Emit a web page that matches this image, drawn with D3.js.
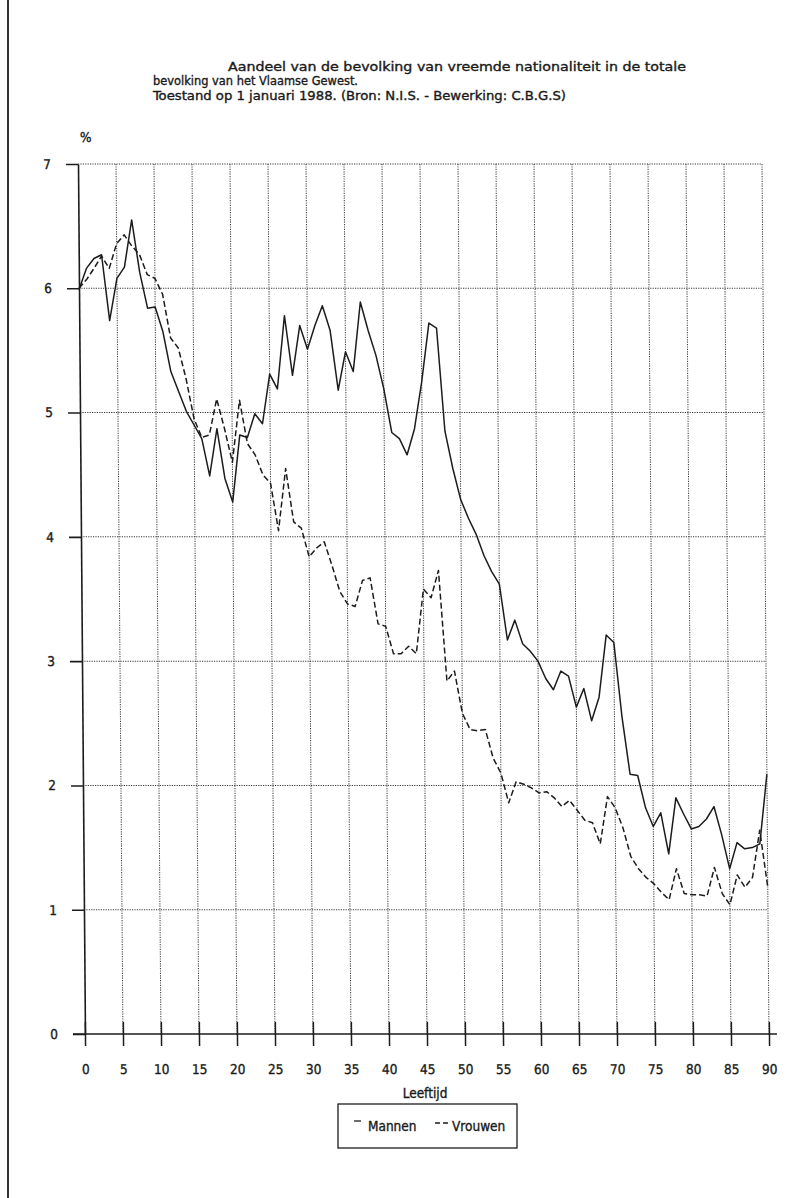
<!DOCTYPE html>
<html><head><meta charset="utf-8">
<script src="https://cdn.jsdelivr.net/npm/d3@7"></script>
<style>
html,body{margin:0;padding:0;background:#fff;}
svg{display:block;}
text{font-family:"Liberation Sans Narrow","DejaVu Sans Condensed","DejaVu Sans",sans-serif;fill:#1a1a1a;stroke:#1a1a1a;stroke-width:0.35px;}
</style></head><body>
<svg id="chart" width="798" height="1198"></svg>
<script>
// ---- data ----
const ages = d3.range(0, 91);
const mannen = [
  5.99, 6.16, 6.24, 6.27, 5.74, 6.08, 6.17, 6.55, 6.13, 5.84,
  5.85, 5.65, 5.33, 5.17, 5.01, 4.90, 4.79, 4.49, 4.87, 4.47,
  4.28, 4.82, 4.80, 4.99, 4.91, 5.31, 5.19, 5.78, 5.30, 5.70,
  5.51, 5.70, 5.86, 5.66, 5.18, 5.49, 5.33, 5.89, 5.66, 5.46,
  5.19, 4.84, 4.79, 4.66, 4.87, 5.25, 5.72, 5.68, 4.85, 4.55,
  4.30, 4.15, 4.02, 3.85, 3.72, 3.62, 3.17, 3.33, 3.14, 3.08,
  3.00, 2.86, 2.77, 2.92, 2.88, 2.63, 2.78, 2.52, 2.71, 3.21,
  3.15, 2.55, 2.09, 2.08, 1.82, 1.67, 1.78, 1.45, 1.90, 1.77,
  1.65, 1.67, 1.73, 1.83, 1.60, 1.33, 1.54, 1.49, 1.50, 1.53,
  2.09
];
const vrouwen = [
  6.00, 6.07, 6.16, 6.26, 6.16, 6.36, 6.43, 6.34, 6.27, 6.11,
  6.08, 5.95, 5.60, 5.52, 5.27, 4.95, 4.80, 4.82, 5.11, 4.87,
  4.60, 5.10, 4.75, 4.66, 4.50, 4.43, 4.05, 4.55, 4.12, 4.07,
  3.84, 3.91, 3.96, 3.77, 3.56, 3.46, 3.44, 3.65, 3.67, 3.30,
  3.28, 3.06, 3.06, 3.12, 3.06, 3.58, 3.51, 3.73, 2.84, 2.92,
  2.58, 2.45, 2.44, 2.45, 2.22, 2.10, 1.86, 2.03, 2.01, 1.98,
  1.94, 1.95, 1.90, 1.83, 1.88, 1.80, 1.72, 1.70, 1.53, 1.91,
  1.82, 1.66, 1.43, 1.33, 1.26, 1.21, 1.14, 1.08, 1.33, 1.13,
  1.12, 1.12, 1.11, 1.34, 1.13, 1.04, 1.28, 1.18, 1.26, 1.64,
  1.18
];
const yTicks = [0, 1, 2, 3, 4, 5, 6, 7];
const xTicks = [0, 5, 10, 15, 20, 25, 30, 35, 40, 45, 50, 55, 60, 65, 70, 75, 80, 85, 90];
const titleLines = [
  "Aandeel van de bevolking van vreemde nationaliteit in de totale",
  "bevolking van het Vlaamse Gewest.",
  "Toestand op 1 januari 1988. (Bron: N.I.S. - Bewerking: C.B.G.S)"
];
const yUnit = "%";
const xTitle = "Leeftijd";
const seriesNames = ["Mannen", "Vrouwen"];

// ---- drawing ----
const svg = d3.select("#chart");
const ink = "#1c1c1c";

// page edge line (scan border)
svg.append("line").attr("x1", 8).attr("x2", 8).attr("y1", 0).attr("y2", 1198)
  .attr("stroke", "#333").attr("stroke-width", 2);

// title
const title = svg.append("g").attr("font-size", 13);
title.append("text").attr("x", 228).attr("y", 71).attr("textLength", 458).attr("lengthAdjust", "spacingAndGlyphs").text(titleLines[0]);
title.append("text").attr("x", 153).attr("y", 85).attr("textLength", 205).attr("lengthAdjust", "spacingAndGlyphs").text(titleLines[1]);
title.append("text").attr("x", 153).attr("y", 100).attr("textLength", 413).attr("lengthAdjust", "spacingAndGlyphs").text(titleLines[2]);

const x = d3.scaleLinear().domain([0, 90]).range([78, 762]);
const y = d3.scaleLinear().domain([0, 7]).range([1034, 164]);

// slight shear of the scanned plot
const tanA = 0.008;
const skewDeg = Math.atan(tanA) * 180 / Math.PI;
const plot = svg.append("g").attr("transform", `translate(${-164 * tanA},0) skewX(${skewDeg})`);

// "%" unit
plot.append("text").attr("x", 86).attr("y", 142).attr("text-anchor", "middle").attr("font-size", 13.5).text(yUnit);

// grid
const grid = plot.append("g").attr("stroke", "#3a3a3a").attr("stroke-width", 1).attr("stroke-dasharray", "1.2,1.2");
grid.selectAll("line.h").data(yTicks.filter(d => d > 0)).join("line").attr("class", "h")
  .attr("x1", x(0)).attr("x2", x(90)).attr("y1", d => y(d)).attr("y2", d => y(d));
grid.selectAll("line.v").data(xTicks.filter(d => d > 0)).join("line").attr("class", "v")
  .attr("x1", d => x(d)).attr("x2", d => x(d)).attr("y1", y(7)).attr("y2", y(0));

// y axis
const yAxis = plot.append("g").attr("transform", `translate(${x(0)},0)`)
  .call(d3.axisLeft(y).tickValues(yTicks).tickFormat(d3.format("d")).tickSize(12).tickSizeOuter(0).tickPadding(15));
yAxis.selectAll("path,line").attr("stroke", ink).attr("stroke-width", 1.6);
yAxis.selectAll("text").attr("font-size", 13.5).attr("fill", ink).attr("font-family", null);

// x axis
const xAxis = plot.append("g").attr("transform", `translate(0,${y(0)})`)
  .call(d3.axisBottom(x).tickValues(xTicks).tickSize(12).tickSizeOuter(0).tickPadding(18));
xAxis.select("path.domain").attr("d", `M${x(0) - 12},0H${x(90) + 8}`);
xAxis.selectAll("path,line").attr("stroke", ink).attr("stroke-width", 1.5);
xAxis.selectAll(".tick line").attr("y1", -12);
xAxis.selectAll("text").attr("font-size", 13.5).attr("fill", ink).attr("font-family", null);

// series
const line = d3.line().x((d, i) => x(ages[i])).y(d => y(d));
plot.append("path").datum(vrouwen).attr("d", line).attr("fill", "none")
  .attr("stroke", ink).attr("stroke-width", 1.5).attr("stroke-dasharray", "6,3").attr("stroke-linejoin", "round");
plot.append("path").datum(mannen).attr("d", line).attr("fill", "none")
  .attr("stroke", ink).attr("stroke-width", 1.5).attr("stroke-linejoin", "round");

// x title
svg.append("text").attr("x", 425).attr("y", 1098).attr("text-anchor", "middle").attr("font-size", 13.5).text(xTitle);

// legend
const lg = svg.append("g");
lg.append("rect").attr("x", 338).attr("y", 1104).attr("width", 179).attr("height", 44)
  .attr("fill", "none").attr("stroke", ink).attr("stroke-width", 1.3);
lg.append("line").attr("x1", 354).attr("x2", 361).attr("y1", 1121).attr("y2", 1121)
  .attr("stroke", ink).attr("stroke-width", 1.3);
lg.append("text").attr("x", 368).attr("y", 1131).attr("font-size", 13.5).text(seriesNames[0]);
lg.append("line").attr("x1", 435).attr("x2", 448).attr("y1", 1123).attr("y2", 1123)
  .attr("stroke", ink).attr("stroke-width", 1.3).attr("stroke-dasharray", "5,3");
lg.append("text").attr("x", 452).attr("y", 1131).attr("font-size", 13.5).text(seriesNames[1]);
</script>
</body></html>
